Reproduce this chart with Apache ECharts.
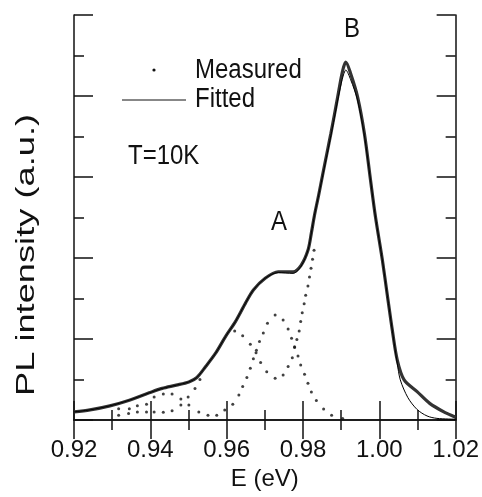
<!DOCTYPE html>
<html><head><meta charset="utf-8">
<script src="https://cdn.jsdelivr.net/npm/echarts@6/dist/echarts.min.js"></script>
<style>html,body{margin:0;padding:0;background:#fff}#c{width:482px;height:497px}</style>
</head><body><div id="c"></div>
<script>
// ---- data ----
const xTicks = [0.92, 0.94, 0.96, 0.98, 1.00, 1.02];
const measured = [[0.9200,0.20],[0.9242,0.25],[0.9294,0.35],[0.9345,0.49],[0.9397,0.67],[0.9431,0.78],[0.9468,0.86],[0.9501,0.94],[0.9522,1.05],[0.9545,1.32],[0.9571,1.65],[0.9597,2.06],[0.9623,2.43],[0.9649,2.88],[0.9670,3.21],[0.9701,3.50],[0.9735,3.66],[0.9774,3.66],[0.9795,3.82],[0.9813,4.19],[0.9822,4.62],[0.9830,5.05],[0.9841,5.55],[0.9852,6.08],[0.9863,6.60],[0.9873,7.07],[0.9882,7.52],[0.9891,7.98],[0.9900,8.45],[0.9906,8.70],[0.9912,8.84],[0.9925,8.55],[0.9943,7.98],[0.9961,7.07],[0.9977,5.92],[0.9990,5.01],[1.0008,3.95],[1.0021,3.08],[1.0034,2.22],[1.0047,1.48],[1.0065,0.99],[1.0099,0.70],[1.0132,0.41],[1.0169,0.20],[1.0197,0.08],[1.0200,0.07]];
const fitted = [[0.9200,0.20],[0.9242,0.25],[0.9294,0.35],[0.9345,0.49],[0.9397,0.67],[0.9431,0.78],[0.9468,0.86],[0.9501,0.94],[0.9522,1.05],[0.9545,1.32],[0.9571,1.65],[0.9597,2.06],[0.9623,2.43],[0.9649,2.88],[0.9670,3.21],[0.9701,3.50],[0.9735,3.64],[0.9774,3.62],[0.9795,3.80],[0.9813,4.19],[0.9822,4.62],[0.9830,5.05],[0.9841,5.55],[0.9852,6.05],[0.9863,6.55],[0.9873,7.02],[0.9882,7.45],[0.9891,7.90],[0.9900,8.30],[0.9906,8.52],[0.9912,8.64],[0.9925,8.40],[0.9943,7.90],[0.9961,7.02],[0.9977,5.92],[0.9990,5.01],[1.0008,3.95],[1.0021,3.08],[1.0034,2.22],[1.0047,1.40],[1.0055,0.99],[1.0075,0.55],[1.0099,0.26],[1.0125,0.10],[1.0151,0.04],[1.0200,0.02]];
const peakA = [[0.9595,0.25],[0.9616,0.39],[0.9632,0.62],[0.9642,0.83],[0.9653,1.05],[0.9662,1.28],[0.9670,1.51],[0.9678,1.72],[0.9686,1.94],[0.9696,2.15],[0.9707,2.39],[0.9727,2.59],[0.9748,2.47],[0.9761,2.25],[0.9770,2.02],[0.9778,1.81],[0.9787,1.58],[0.9794,1.36],[0.9804,1.13],[0.9813,0.91],[0.9822,0.69],[0.9835,0.48],[0.9854,0.27],[0.9875,0.12],[0.9904,0.04]];
const restDots = [[0.9621,2.20],[0.9642,2.08],[0.9662,1.87],[0.9677,1.66],[0.9689,1.42],[0.9705,1.19],[0.9727,1.03],[0.9748,1.11],[0.9761,1.32],[0.9772,1.54],[0.9778,1.79],[0.9784,1.99],[0.9790,2.20],[0.9794,2.43],[0.9798,2.65],[0.9803,2.87],[0.9807,3.08],[0.9813,3.31],[0.9817,3.53],[0.9821,3.75],[0.9825,3.97],[0.9829,4.19]];
const upperLeftDots = [[0.9317,0.28],[0.9345,0.28],[0.9366,0.35],[0.9390,0.39],[0.9410,0.57],[0.9434,0.64],[0.9457,0.64],[0.9480,0.52],[0.9499,0.57],[0.9517,0.78],[0.9530,1.00]];
const lowLeftDots = [[0.9317,0.12],[0.9343,0.16],[0.9366,0.20],[0.9390,0.20],[0.9410,0.20],[0.9434,0.19],[0.9457,0.23],[0.9480,0.37],[0.9501,0.37],[0.9527,0.20],[0.9551,0.12],[0.9574,0.12]];
const legendNames = ['Measured', 'Fitted'];
const annotations = ['T=10K', 'A', 'B'];
const yTitle = 'PL intensity (a.u.)';

const FONT = 'Liberation Sans, Arial, sans-serif';
const chart = echarts.init(document.getElementById('c'), null, {renderer: 'canvas'});
const dotSeries = (name, data) => ({
  name, type: 'scatter', data, symbol: 'circle', symbolSize: 3,
  itemStyle: {color: '#111'}, silent: true, z: 3
});
const axisCommon = {
  type: 'value',
  axisLine: {show: true, lineStyle: {color: '#111', width: 1.5}},
  axisTick: {show: true, inside: true, length: 19, lineStyle: {color: '#111', width: 1.5}},
  minorTick: {show: true, splitNumber: 2, length: 10, lineStyle: {color: '#111', width: 1.5}},
  splitLine: {show: false}
};
const txt = (text, x, y, opts) => Object.assign({
  type: 'text', x, y, scaleY: 1.15,
  style: {text, x: 0, y: 0, font: '24px ' + FONT, fill: '#111', align: 'left', verticalAlign: 'middle'}
}, opts || {});
chart.setOption({
  animation: false,
  backgroundColor: '#fff',
  grid: {left: 74, right: 23, top: 15, bottom: 77},
  xAxis: [
    Object.assign({}, axisCommon, {
      min: xTicks[0], max: xTicks[xTicks.length - 1], interval: 0.02, position: 'bottom',
      name: 'E (eV)', nameLocation: 'middle', nameGap: 47,
      nameTextStyle: {fontFamily: FONT, fontSize: 24, color: '#111'},
      axisLabel: {margin: 18, fontFamily: FONT, fontSize: 24, color: '#111',
        formatter: v => v.toFixed(2)}
    }),
    Object.assign({}, axisCommon, {
      min: xTicks[0], max: xTicks[xTicks.length - 1], interval: 0.02, position: 'top',
      axisLabel: {show: false}
    })
  ],
  yAxis: [
    Object.assign({}, axisCommon, {min: 0, max: 10, interval: 2, position: 'left', axisLabel: {show: false}}),
    Object.assign({}, axisCommon, {min: 0, max: 10, interval: 2, position: 'right', axisLabel: {show: false}})
  ],
  series: [
    {name: 'Measured', type: 'line', data: measured, showSymbol: false, smooth: 0.3,
      lineStyle: {color: '#333', width: 3.2}, z: 2},
    {name: 'Fitted', type: 'line', data: fitted, showSymbol: false, smooth: 0.3,
      lineStyle: {color: '#000', width: 1}, z: 4},
    dotSeries('A', peakA),
    dotSeries('rest', restDots),
    dotSeries('upper', upperLeftDots),
    dotSeries('low', lowLeftDots)
  ],
  graphic: [
    {type: 'circle', shape: {cx: 154, cy: 70, r: 1.6}, style: {fill: '#111'}},
    txt(legendNames[0], 195, 70),
    {type: 'line', shape: {x1: 122, y1: 100, x2: 186, y2: 100}, style: {stroke: '#111', lineWidth: 1}},
    txt(legendNames[1], 195, 99),
    txt(annotations[0], 128, 156),
    txt(annotations[1], 279, 222, {style: {text: annotations[1], x: 0, y: 0, font: '24px ' + FONT, fill: '#111', align: 'center', verticalAlign: 'middle'}}),
    txt(annotations[2], 352, 29, {style: {text: annotations[2], x: 0, y: 0, font: '24px ' + FONT, fill: '#111', align: 'center', verticalAlign: 'middle'}}),
    {type: 'text', x: 27, y: 255, rotation: Math.PI / 2, scaleX: 1.45,
      style: {text: yTitle, x: 0, y: 0, font: '25px ' + FONT, fill: '#111', align: 'center', verticalAlign: 'middle'}}
  ]
});
</script></body></html>
